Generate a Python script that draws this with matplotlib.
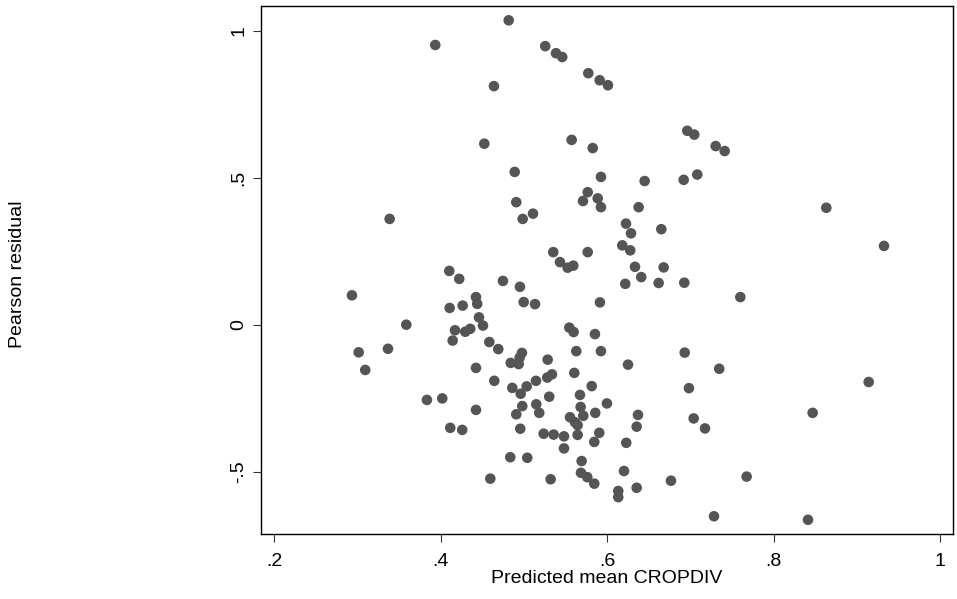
"""
Pearson residuals against predicted mean CROPDIV (Stata-style scatter).
"""

import matplotlib
matplotlib.use('Agg')
import matplotlib.pyplot as plt

plt.rcParams['font.family'] = ['Liberation Sans', 'DejaVu Sans']

# predicted mean CROPDIV (x) and Pearson residual (y)
predicted = [
    0.4816, 0.3934, 0.5255, 0.5384, 0.5459, 0.5772, 0.5909, 0.6008, 0.4639, 0.4523,
    0.5572, 0.5825, 0.4888, 0.5924, 0.5765, 0.5708, 0.5885, 0.5924, 0.4907, 0.4984,
    0.5108, 0.3386, 0.5351, 0.5432, 0.5524, 0.5592, 0.5765, 0.4102, 0.4222, 0.4747,
    0.4951, 0.2933, 0.4423, 0.4438, 0.4107, 0.4263, 0.4996, 0.5132, 0.5912, 0.3586,
    0.4459, 0.4507, 0.4171, 0.4294, 0.4354, 0.4143, 0.5544, 0.5596, 0.5852, 0.3014,
    0.3366, 0.3093, 0.4583, 0.4691, 0.4423, 0.4975, 0.4948, 0.4840, 0.4936, 0.5284,
    0.5628, 0.5924, 0.4643, 0.4859, 0.4960, 0.5032, 0.5144, 0.5279, 0.5336, 0.5303,
    0.5604, 0.5813, 0.5672, 0.3834, 0.4018, 0.4423, 0.4979, 0.4907, 0.5147, 0.5183,
    0.5680, 0.5712, 0.5552, 0.5612, 0.5644, 0.5856, 0.5996, 0.4114, 0.4258, 0.4955,
    0.5236, 0.5356, 0.5480, 0.5644, 0.5904, 0.5844, 0.5480, 0.4835, 0.5039, 0.5692,
    0.4595, 0.5320, 0.5684, 0.5760, 0.5844, 0.6132, 0.6132, 0.6961, 0.7045, 0.7302,
    0.7410, 0.6449, 0.6918, 0.7081, 0.6377, 0.8631, 0.6225, 0.6285, 0.6649, 0.6180,
    0.6276, 0.9324, 0.6333, 0.6677, 0.6408, 0.6216, 0.6617, 0.6925, 0.7598, 0.6930,
    0.6249, 0.7345, 0.9140, 0.6981, 0.6369, 0.6353, 0.7038, 0.7174, 0.8467, 0.6228,
    0.6201, 0.6765, 0.7674, 0.6353, 0.7282, 0.8411,
]
residual = [
    1.036, 0.952, 0.948, 0.924, 0.911, 0.856, 0.832, 0.815, 0.812, 0.616,
    0.629, 0.601, 0.520, 0.503, 0.451, 0.421, 0.430, 0.400, 0.417, 0.360,
    0.378, 0.360, 0.247, 0.213, 0.194, 0.201, 0.247, 0.183, 0.156, 0.149,
    0.129, 0.100, 0.094, 0.071, 0.057, 0.065, 0.077, 0.070, 0.076, 0.000,
    0.025, -0.003, -0.019, -0.024, -0.014, -0.054, -0.010, -0.025, -0.032, -0.094,
    -0.082, -0.154, -0.059, -0.083, -0.147, -0.096, -0.112, -0.130, -0.134, -0.119,
    -0.090, -0.090, -0.191, -0.215, -0.235, -0.210, -0.191, -0.180, -0.169, -0.245,
    -0.164, -0.209, -0.239, -0.256, -0.251, -0.290, -0.277, -0.305, -0.271, -0.300,
    -0.280, -0.310, -0.315, -0.332, -0.342, -0.300, -0.268, -0.351, -0.358, -0.354,
    -0.371, -0.374, -0.380, -0.375, -0.368, -0.399, -0.421, -0.451, -0.453, -0.464,
    -0.524, -0.526, -0.504, -0.519, -0.541, -0.566, -0.587, 0.660, 0.647, 0.608,
    0.591, 0.489, 0.493, 0.511, 0.400, 0.398, 0.344, 0.311, 0.325, 0.270,
    0.253, 0.268, 0.197, 0.195, 0.162, 0.139, 0.142, 0.143, 0.094, -0.095,
    -0.136, -0.150, -0.195, -0.216, -0.307, -0.347, -0.319, -0.353, -0.300, -0.402,
    -0.498, -0.531, -0.517, -0.555, -0.652, -0.664,
]

xticks = [0.2, 0.4, 0.6, 0.8, 1.0]
xticklabels = ['.2', '.4', '.6', '.8', '1']
yticks = [-0.5, 0, 0.5, 1.0]
yticklabels = ['-.5', '0', '.5', '1']

fig = plt.figure(figsize=(9.57, 5.99), dpi=100)
ax = fig.add_axes([0.2730, 0.1085, 0.7225, 0.881])

ax.scatter(predicted, residual, s=58, color='#555555', edgecolors='none', zorder=3)

ax.set_xlim(0.1844, 1.0149)
ax.set_ylim(-0.7124, 1.0837)

ax.set_xticks(xticks)
ax.set_xticklabels(xticklabels)
ax.set_yticks(yticks)
ax.set_yticklabels(yticklabels, rotation=90, va='center')
ax.tick_params(direction='out', length=6, width=0.8, color='#333333', labelsize=14)
ax.tick_params(axis='x', pad=8)
ax.tick_params(axis='y', pad=4)

for side in ['left', 'right', 'top', 'bottom']:
    ax.spines[side].set_linewidth(1.0)
    ax.spines[side].set_color('black')

ax.set_xlabel('Predicted mean CROPDIV', fontsize=14, labelpad=0)
fig.text(18 / 957, 0.5426, 'Pearson residual', rotation=90, fontsize=14,
         ha='center', va='center')

plt.savefig('out.png', dpi=100)
